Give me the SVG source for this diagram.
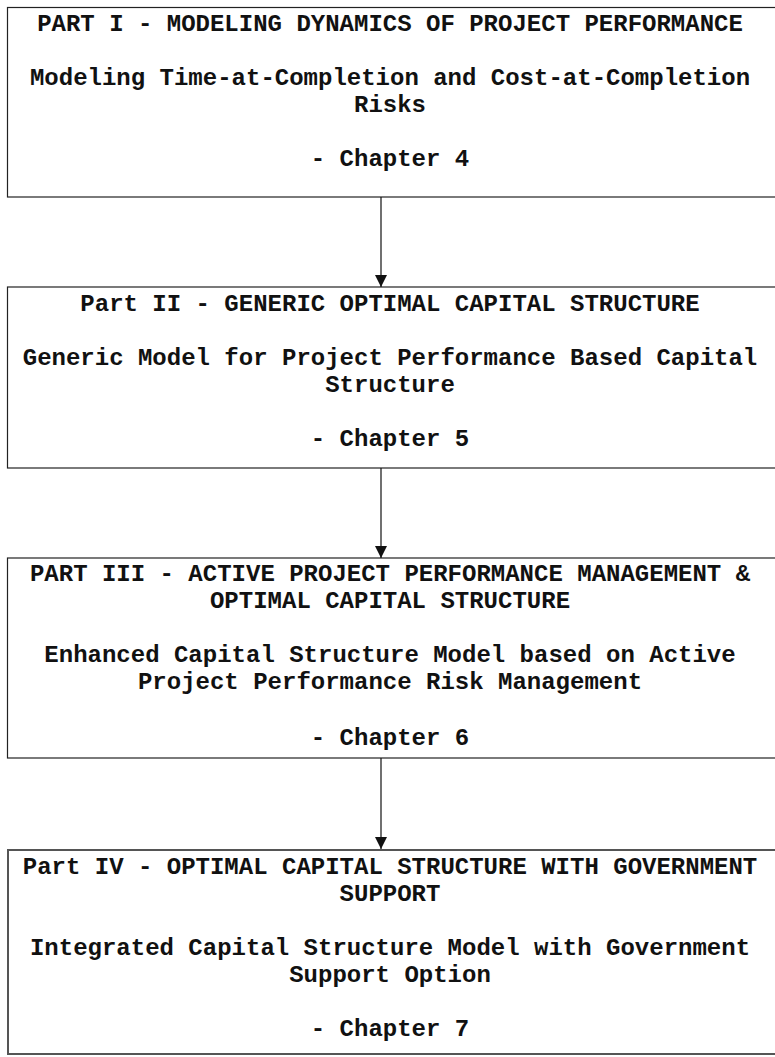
<svg xmlns="http://www.w3.org/2000/svg" width="775" height="1057" viewBox="0 0 775 1057">
  <style>
    .box { fill: #ffffff; stroke: #222222; stroke-width: 1.2; }
    .box.heavy { stroke: #555555; stroke-width: 2; }
    .lbl { font-family: "Liberation Mono", "Courier New", monospace; font-weight: bold; font-size: 24px; fill: #111111; text-anchor: middle; }
    .edge { stroke: #111111; stroke-width: 1.2; fill: none; }
  </style>
  <defs>
    <marker id="arrowhead" viewBox="0 0 12 12" refX="12" refY="6" markerWidth="12" markerHeight="12" markerUnits="userSpaceOnUse" orient="auto">
      <path d="M0,0 L12,6 L0,12 Z" fill="#111111"/>
    </marker>
  </defs>
  <rect width="775" height="1057" fill="#ffffff"/>

  <g id="part1">
    <rect class="box" x="7.5" y="7.5" width="790" height="189.5"/>
    <text class="lbl" x="390" y="31">PART I - MODELING DYNAMICS OF PROJECT PERFORMANCE</text>
    <text class="lbl" x="390" y="85">Modeling Time-at-Completion and Cost-at-Completion</text>
    <text class="lbl" x="390" y="112">Risks</text>
    <text class="lbl" x="390" y="166">- Chapter 4</text>
  </g>

  <g id="part2">
    <rect class="box" x="7.5" y="287" width="790" height="181"/>
    <text class="lbl" x="390" y="311">Part II - GENERIC OPTIMAL CAPITAL STRUCTURE</text>
    <text class="lbl" x="390" y="365">Generic Model for Project Performance Based Capital</text>
    <text class="lbl" x="390" y="392">Structure</text>
    <text class="lbl" x="390" y="446">- Chapter 5</text>
  </g>

  <g id="part3">
    <rect class="box" x="7.5" y="558" width="790" height="200"/>
    <text class="lbl" x="390" y="581">PART III - ACTIVE PROJECT PERFORMANCE MANAGEMENT &amp;</text>
    <text class="lbl" x="390" y="608">OPTIMAL CAPITAL STRUCTURE</text>
    <text class="lbl" x="390" y="662">Enhanced Capital Structure Model based on Active</text>
    <text class="lbl" x="390" y="689">Project Performance Risk Management</text>
    <text class="lbl" x="390" y="745">- Chapter 6</text>
  </g>

  <g id="part4">
    <rect class="box heavy" x="8" y="850" width="790" height="204"/>
    <text class="lbl" x="390" y="874">Part IV - OPTIMAL CAPITAL STRUCTURE WITH GOVERNMENT</text>
    <text class="lbl" x="390" y="901">SUPPORT</text>
    <text class="lbl" x="390" y="955">Integrated Capital Structure Model with Government</text>
    <text class="lbl" x="390" y="982">Support Option</text>
    <text class="lbl" x="390" y="1036">- Chapter 7</text>
  </g>

  <g id="connectors">
    <line class="edge" x1="381" y1="197" x2="381" y2="287" marker-end="url(#arrowhead)"/>
    <line class="edge" x1="381" y1="468" x2="381" y2="558" marker-end="url(#arrowhead)"/>
    <line class="edge" x1="381" y1="758" x2="381" y2="849" marker-end="url(#arrowhead)"/>
  </g>
</svg>
